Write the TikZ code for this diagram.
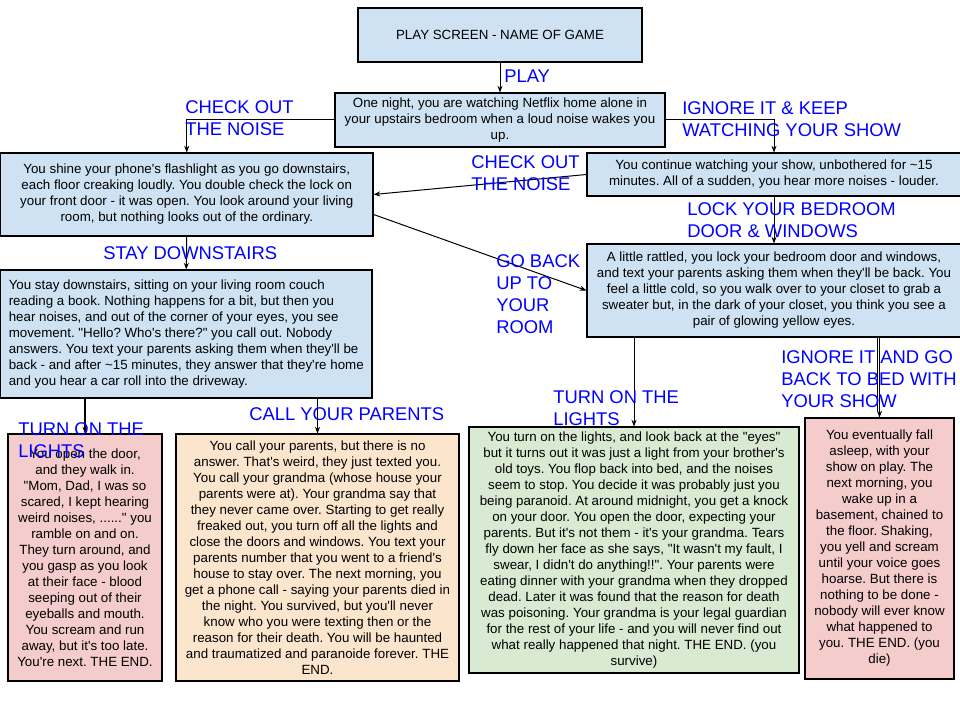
\documentclass[tikz,border=0pt]{standalone}
\usepackage{fontspec}
\setmainfont{Liberation Sans}[Ligatures=TeXOff]
\usetikzlibrary{arrows.meta,calc}
\definecolor{boxblue}{HTML}{CFE2F3}
\definecolor{boxpink}{HTML}{F4CCCC}
\definecolor{boxorange}{HTML}{FCE5CD}
\definecolor{boxgreen}{HTML}{D9EAD3}
\definecolor{lblblue}{HTML}{0000FF}
\newcommand{\bodyfnt}{\fontsize{10}{12}\selectfont}
\newcommand{\lblfnt}{\fontsize{13.8}{16.5}\selectfont}
\frenchspacing
\begin{document}
\begin{tikzpicture}[x=0.75pt,y=-0.75pt,
  box/.style={draw=black, line width=0.8pt, inner sep=0pt, align=center, font=\bodyfnt, text=black},
  lbl/.style={anchor=north west, inner sep=0pt, align=left, font=\lblfnt, text=lblblue},
  arr/.style={-{Stealth[length=5pt,width=3.8pt]}, line width=0.75pt, draw=black}]
\useasboundingbox (0,0) rectangle (960,720);
\fill[white] (0,0) rectangle (960,720);

% boxes
\node[box, fill=boxblue, minimum width=213pt, minimum height=40.5pt] (title) at (500,35)
  {PLAY SCREEN - NAME OF GAME};
\node[box, fill=boxblue, minimum width=247.5pt, minimum height=40.5pt] (intro) at (500,120)
  {One night, you are watching Netflix home alone in\\
   your upstairs bedroom when a loud noise wakes you\\
   up.};
\node[box, fill=boxblue, minimum width=279.4pt, minimum height=62.25pt] (flash) at (186.75,194.5)
  {You shine your phone's flashlight as you go downstairs,\\
   each floor creaking loudly. You double check the lock on\\
   your front door - it was open. You look around your living\\
   room, but nothing looks out of the ordinary.};
\node[box, fill=boxblue, minimum width=280.5pt, minimum height=32.25pt] (cont) at (774,174.5)
  {You continue watching your show, unbothered for \textasciitilde15\\
   minutes. All of a sudden, you hear more noises - louder.};
\node[box, fill=boxblue, minimum width=280.5pt, minimum height=69.75pt] (lock) at (774,290.5)
  {A little rattled, you lock your bedroom door and windows,\\
   and text your parents asking them when they'll be back. You\\
   feel a little cold, so you walk over to your closet to grab a\\
   sweater but, in the dark of your closet, you think you see a\\
   pair of glowing yellow eyes.};
\node[box, fill=boxblue, align=left, minimum width=278.6pt, minimum height=96pt] (stay) at (186.25,334)
  {You stay downstairs, sitting on your living room couch\\
   reading a book. Nothing happens for a bit, but then you\\
   hear noises, and out of the corner of your eyes, you see\\
   movement. "Hello? Who's there?" you call out. Nobody\\
   answers. You text your parents asking them when they'll be\\
   back - and after \textasciitilde15 minutes, they answer that they're home\\
   and you hear a car roll into the driveway.};
\node[box, fill=boxpink, minimum width=115.5pt, minimum height=185.25pt] (pinkL) at (85,557.5)
  {You open the door,\\
   and they walk in.\\
   "Mom, Dad, I was so\\
   scared, I kept hearing\\
   weird noises, ......" you\\
   ramble on and on.\\
   They turn around, and\\
   you gasp as you look\\
   at their face - blood\\
   seeping out of their\\
   eyeballs and mouth.\\
   You scream and run\\
   away, but it's too late.\\
   You're next. THE END.};
\node[box, fill=boxorange, minimum width=212.25pt, minimum height=185.25pt] (orange) at (317.5,557.5)
  {You call your parents, but there is no\\
   answer. That's weird, they just texted you.\\
   You call your grandma (whose house your\\
   parents were at). Your grandma say that\\
   they never came over. Starting to get really\\
   freaked out, you turn off all the lights and\\
   close the doors and windows. You text your\\
   parents number that you went to a friend's\\
   house to stay over. The next morning, you\\
   get a phone call - saying your parents died in\\
   the night. You survived, but you'll never\\
   know who you were texting then or the\\
   reason for their death. You will be haunted\\
   and traumatized and paranoide forever. THE\\
   END.};
\node[box, fill=boxgreen, minimum width=247.5pt, minimum height=184.5pt] (green) at (634,550)
  {You turn on the lights, and look back at the "eyes"\\
   but it turns out it was just a light from your brother's\\
   old toys. You flop back into bed, and the noises\\
   seem to stop. You decide it was probably just you\\
   being paranoid. At around midnight, you get a knock\\
   on your door. You open the door, expecting your\\
   parents. But it's not them - it's your grandma. Tears\\
   fly down her face as she says, "It wasn't my fault, I\\
   swear, I didn't do anything!!". Your parents were\\
   eating dinner with your grandma when they dropped\\
   dead. Later it was found that the reason for death\\
   was poisoning. Your grandma is your legal guardian\\
   for the rest of your life - and you will never find out\\
   what really happened that night. THE END. (you\\
   survive)};
\node[box, fill=boxpink, minimum width=111.75pt, minimum height=195.75pt] (pinkR) at (879.5,548.5)
  {You eventually fall\\
   asleep, with your\\
   show on play. The\\
   next morning, you\\
   wake up in a\\
   basement, chained to\\
   the floor. Shaking,\\
   you yell and scream\\
   until your voice goes\\
   hoarse. But there is\\
   nothing to be done -\\
   nobody will ever know\\
   what happened to\\
   you. THE END. (you\\
   die)};

% connectors
\draw[arr] (title.south) -- (intro.north);
\draw[arr] (intro.west) -| (flash.north);
\draw[arr] (intro.east) -| (cont.north);
\draw[arr] (cont.west) -- (flash.east);
\draw[arr] ($(flash.east)+(0,20)$) -- (lock.west);
\draw[arr] (cont.south) -- (lock.north);
\draw[arr] (flash.south) -- (stay.north);
\draw[arr, line width=1.5pt] (stay.south -| pinkL.north) -- (pinkL.north);
\draw[arr] (stay.south -| orange.north) -- (orange.north);
\draw[arr] (lock.south -| green.north) -- (green.north);
\draw[arr] (lock.south -| pinkR.north) -- (pinkR.north);
\draw[line width=0.75pt] ([xshift=-1.5pt]lock.south -| pinkR.north) -- ([xshift=-1.5pt,yshift=4pt]pinkR.north);

% labels
\node[lbl] (lplay) at (504,70) {PLAY};
\node[lbl] (lcheck1) at (185,100) {CHECK OUT\\THE NOISE};
\node[lbl] (lignore1) at (682,101) {IGNORE IT \& KEEP\\WATCHING YOUR SHOW};
\node[lbl] (lcheck2) at (471,155) {CHECK OUT\\THE NOISE};
\node[lbl] (llock) at (687,202) {LOCK YOUR BEDROOM\\DOOR \& WINDOWS};
\node[lbl] (lgoback) at (496,254) {GO BACK\\UP TO\\YOUR\\ROOM};
\node[lbl] (lstay) at (103,246) {STAY DOWNSTAIRS};
\node[lbl] (lcall) at (249,407) {CALL YOUR PARENTS};
\node[lbl] (lturn1) at (18,422) {TURN ON THE\\LIGHTS};
\node[lbl] (lturn2) at (553,390) {TURN ON THE\\LIGHTS};
\node[lbl] (lignore2) at (781,350) {IGNORE IT AND GO\\BACK TO BED WITH\\YOUR SHOW};
\end{tikzpicture}
\end{document}
